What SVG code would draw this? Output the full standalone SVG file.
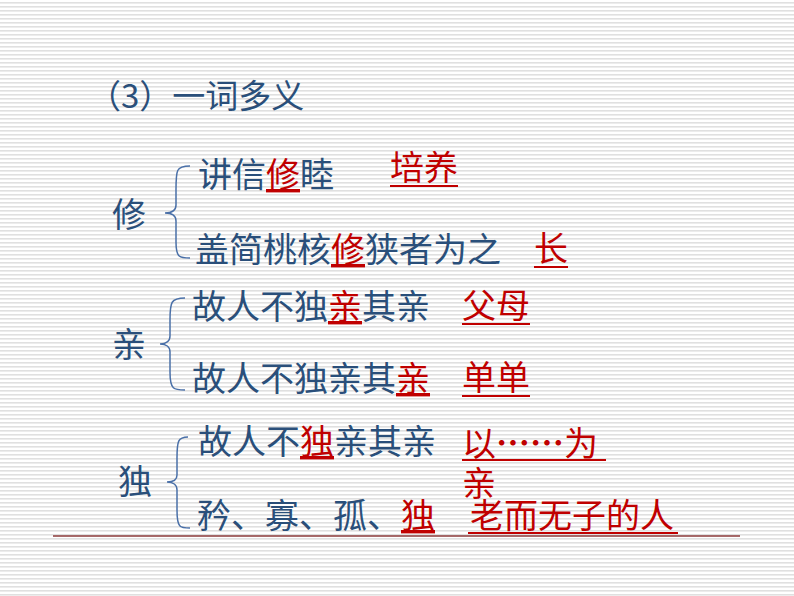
<svg xmlns="http://www.w3.org/2000/svg" width="794" height="596" viewBox="0 0 794 596">
<defs>
<pattern id="rule" width="4" height="4" patternUnits="userSpaceOnUse"><rect width="4" height="4" fill="#fff"/><rect y="2" width="4" height="1.6" fill="#e0e0e0"/></pattern>
<style>
text{font-family:"Noto Sans CJK SC","Liberation Sans",sans-serif;font-size:34px;fill:#2a4f7a}
.t{font-size:33px}
.r{fill:#c00000;text-decoration:underline}
.a{fill:#c00000;font-size:34px}
.u{stroke:#c00000;stroke-width:2}
.br{fill:none;stroke:#4a70a8;stroke-width:1.5}
</style>
</defs>
<rect width="794" height="596" fill="url(#rule)"/>
<text class="t" x="88" y="108">（3）一词多义</text>
<g id="xiu">
<text x="112" y="227">修</text>
<path class="br" d="M190,166 C176,166 176,170 176,190 L176,205 C176,210 172,213 165,213 C172,213 176,216 176,221 L176,242 C176,258 180,258 190,258"/>
<text x="198" y="187">讲信<tspan class="r">修</tspan>睦</text>
<text x="195" y="262">盖简桃核<tspan class="r">修</tspan>狭者为之</text>
<text class="a" x="390" y="180">培养</text><line class="u" x1="390" y1="186" x2="458" y2="186"/>
<text class="a" x="534" y="261">长</text><line class="u" x1="534" y1="267" x2="568" y2="267"/>
</g>
<g id="qin">
<text x="112" y="357">亲</text>
<path class="br" d="M185,298 C171,298 170,302 170,320 L170,336 C170,341 166,344 160,344 C166,344 170,347 170,352 L170,372 C170,390 174,390 185,390"/>
<text x="192" y="319">故人不独<tspan class="r">亲</tspan>其亲</text>
<text x="192" y="391">故人不独亲其<tspan class="r">亲</tspan></text>
<text class="a" x="462" y="318">父母</text><line class="u" x1="462" y1="324" x2="530" y2="324"/>
<text class="a" x="462" y="390">单单</text><line class="u" x1="462" y1="396" x2="530" y2="396"/>
</g>
<g id="du">
<text x="118" y="494">独</text>
<path class="br" d="M188,437 C178,437 177,441 177,458 L177,475 C177,480 173,482 167,482 C173,482 177,485 177,490 L177,510 C177,528 180,528 190,528"/>
<text x="198" y="454">故人不<tspan class="r">独</tspan>亲其亲</text>
<text x="197" y="528">矜、寡、孤、<tspan class="r">独</tspan></text>
<text class="a" x="462" y="456">以<tspan font-weight="bold">……</tspan>为</text><line class="u" x1="462" y1="460" x2="606" y2="460"/>
<text class="a" x="462" y="496">亲</text>
<text class="a" x="470" y="528">老而无子的人</text><line class="u" x1="468" y1="533" x2="678" y2="533"/>
</g>
<line x1="53" y1="536" x2="740" y2="536" stroke="#8b3a3a" stroke-width="1.5"/>
</svg>
